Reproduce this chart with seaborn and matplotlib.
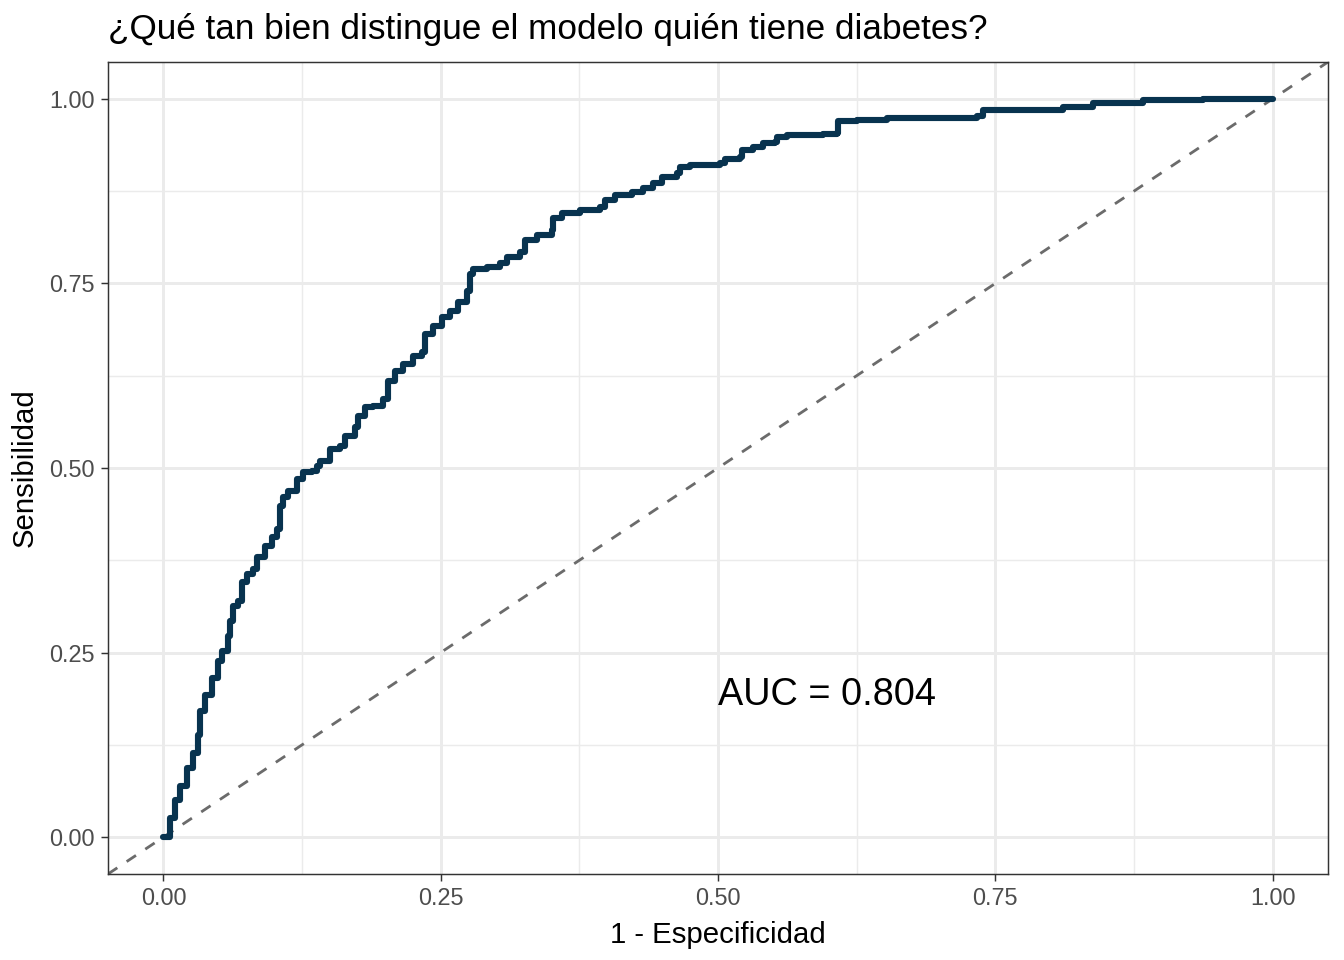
import numpy as np
import pandas as pd
import matplotlib
matplotlib.use("Agg")
import matplotlib.pyplot as plt
import seaborn as sns

# ROC curve points (pixel-digitized, then converted)
px_x = [163, 170, 175, 180, 187, 193, 198, 200, 205, 212, 218, 222, 228, 230, 233, 238,
        242, 247, 253, 257, 265, 272, 277, 280, 283, 288, 297, 303, 312, 317, 320, 330,
        340, 345, 355, 358, 365, 373, 383, 388, 395, 403, 413, 422, 425, 433, 442, 450,
        458, 467, 470, 473, 487, 500, 507, 520, 525, 537, 552, 553, 562, 580, 600, 605,
        615, 632, 643, 653, 662, 677, 680, 690, 720, 725, 740, 742, 753, 763, 775, 777,
        787, 823, 837, 838, 857, 887, 977, 983, 1023, 1063, 1093, 1140, 1143, 1203, 1210, 1273]
px_y = [839, 820, 802, 788, 770, 755, 737, 713, 697, 680, 662, 652, 637, 622, 607, 602,
        583, 575, 570, 558, 547, 538, 530, 507, 498, 492, 480, 473, 472, 467, 462, 450,
        447, 437, 428, 417, 408, 407, 400, 382, 372, 365, 357, 353, 335, 327, 318, 312,
        303, 292, 275, 270, 268, 263, 257, 252, 240, 235, 230, 218, 213, 210, 207, 200,
        195, 192, 188, 183, 177, 173, 167, 165, 163, 159, 157, 150, 147, 143, 142, 137,
        135, 134, 133, 121, 120, 118, 116, 110, 110, 107, 103, 103, 100, 99, 98, 98]

fpr = [(p - 163) / 1110 for p in px_x]
tpr = [min(1.0, (839 - p) / 740) for p in px_y]
tpr[-1] = 1.0
tpr[-2] = 1.0

auc_label = "AUC = 0.804"
title = "¿Qué tan bien distingue el modelo quién tiene diabetes?"
xlabel = "1 - Especificidad"
ylabel = "Sensibilidad"
ticks = [0.0, 0.25, 0.5, 0.75, 1.0]
tick_labels = ["0.00", "0.25", "0.50", "0.75", "1.00"]

df = pd.DataFrame({"fpr": fpr, "tpr": tpr})

sns.set_style("white")
plt.rcParams["font.family"] = ["Liberation Sans", "DejaVu Sans"]

fig = plt.figure(figsize=(7, 5), dpi=192)
ax = fig.add_axes([108 / 1344, 1 - 874 / 960, (1328 - 108) / 1344, (874 - 62) / 960])

# grid
for v in [0.125, 0.375, 0.625, 0.875]:
    ax.axvline(v, color="#EBEBEB", lw=0.55, zorder=0)
    ax.axhline(v, color="#EBEBEB", lw=0.55, zorder=0)
for v in ticks:
    ax.axvline(v, color="#EBEBEB", lw=1.1, zorder=0)
    ax.axhline(v, color="#EBEBEB", lw=1.1, zorder=0)

# diagonal
ax.plot([-0.05, 1.05], [-0.05, 1.05], color="#6B6B6B", lw=1.05,
        linestyle=(0, (4, 4)), zorder=1)

sns.lineplot(data=df, x="fpr", y="tpr", sort=False, ax=ax, color="#08334F",
             lw=2.3, drawstyle="steps-post", zorder=2)

ax.text(0.5, 0.192, auc_label, fontsize=14.2, ha="left", va="center", color="black")

ax.set_xlim(-0.05, 1.05)
ax.set_ylim(-0.05, 1.05)
ax.set_xticks(ticks)
ax.set_xticklabels(tick_labels)
ax.set_yticks(ticks)
ax.set_yticklabels(tick_labels)
ax.tick_params(axis="both", which="both", length=2.75, width=0.55, color="#333333",
               labelsize=8.8, labelcolor="#4D4D4D", pad=2.2, direction="out")
ax.tick_params(bottom=True, left=True)
for s in ax.spines.values():
    s.set_color("#333333")
    s.set_linewidth(0.55)
    s.set_visible(True)

ax.set_xlabel(xlabel, fontsize=11, color="black", labelpad=4)
ax.set_ylabel(ylabel, fontsize=11, color="black", labelpad=4)
fig.text(108 / 1344, 1 - 30 / 960, title, fontsize=13.2, ha="left", va="center", color="black")

fig.savefig("out.png", dpi=192)
